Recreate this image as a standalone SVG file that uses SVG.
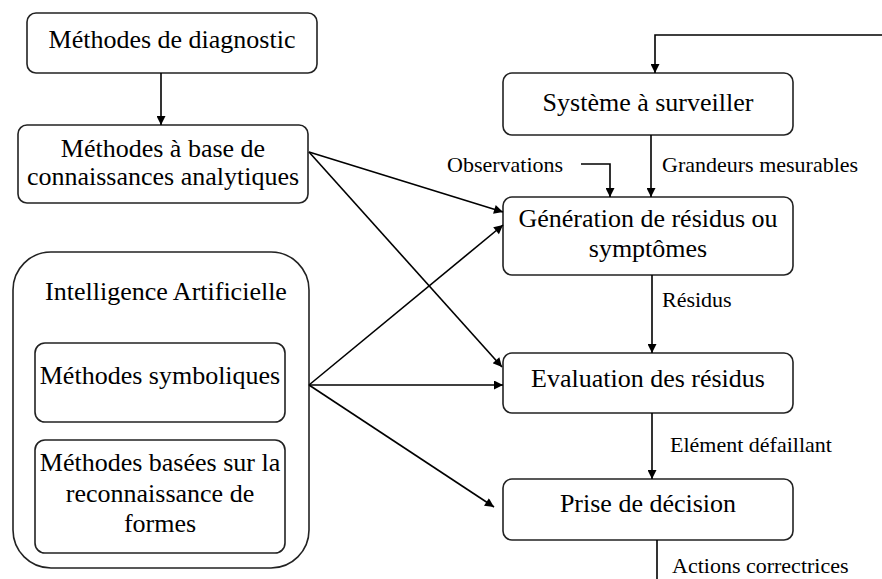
<svg xmlns="http://www.w3.org/2000/svg" width="882" height="579" viewBox="0 0 882 579">
  <defs>
    <marker id="arrow" viewBox="0 0 10 10" refX="10" refY="5" markerWidth="11" markerHeight="9" markerUnits="userSpaceOnUse" orient="auto">
      <path d="M0,0 L10,5 L0,10 Z" fill="#000"/>
    </marker>
    <style>
      .box { fill: #fff; stroke: #222; stroke-width: 1.6; }
      .t { font-size: 26px; fill: #000; text-anchor: middle; }
      .lbl { font-size: 22px; fill: #000; }
      .edge { fill: none; stroke: #000; stroke-width: 1.6; }
    </style>
  </defs>
  <rect width="882" height="579" fill="#fff"/>

  <g font-family="Liberation Serif, Times New Roman, Tinos, DejaVu Serif, serif">
  <!-- left column -->
  <g id="methodes-diagnostic">
    <rect class="box" x="27" y="13" width="290" height="60" rx="9"/>
    <text class="t" x="172" y="48">Méthodes de diagnostic</text>
  </g>
  <g id="methodes-analytiques">
    <rect class="box" x="18" y="125" width="290" height="78" rx="9"/>
    <text class="t" x="163" y="157">Méthodes à base de</text>
    <text class="t" x="163" y="185">connaissances analytiques</text>
  </g>
  <g id="intelligence-artificielle">
    <rect class="box" x="13" y="252" width="296" height="316" rx="38"/>
    <text class="t" x="166" y="300">Intelligence Artificielle</text>
  </g>
  <g id="methodes-symboliques">
    <rect class="box" x="35" y="343" width="250" height="79" rx="10"/>
    <text class="t" x="160" y="384">Méthodes symboliques</text>
  </g>
  <g id="methodes-formes">
    <rect class="box" x="35" y="440" width="250" height="113" rx="10"/>
    <text class="t" x="160" y="471">Méthodes basées sur la</text>
    <text class="t" x="160" y="502">reconnaissance de</text>
    <text class="t" x="160" y="532">formes</text>
  </g>

  <!-- right column -->
  <g id="systeme">
    <rect class="box" x="503" y="73" width="290" height="62" rx="9"/>
    <text class="t" x="648" y="111">Système à surveiller</text>
  </g>
  <g id="generation">
    <rect class="box" x="503" y="197" width="290" height="78" rx="9"/>
    <text class="t" x="648" y="227">Génération de résidus ou</text>
    <text class="t" x="648" y="257">symptômes</text>
  </g>
  <g id="evaluation">
    <rect class="box" x="503" y="353" width="290" height="60" rx="9"/>
    <text class="t" x="648" y="387">Evaluation des résidus</text>
  </g>
  <g id="decision">
    <rect class="box" x="503" y="479" width="290" height="61" rx="9"/>
    <text class="t" x="648" y="512">Prise de décision</text>
  </g>

  <!-- connectors -->
  <g id="connectors">
    <line class="edge" x1="161" y1="73" x2="161" y2="125" marker-end="url(#arrow)"/>
    <polyline class="edge" points="882,35 655,35 655,73" marker-end="url(#arrow)"/>
    <line class="edge" x1="651" y1="135" x2="651" y2="197" marker-end="url(#arrow)"/>
    <polyline class="edge" points="581,164 610,164 610,197" marker-end="url(#arrow)"/>
    <line class="edge" x1="652" y1="275" x2="652" y2="353" marker-end="url(#arrow)"/>
    <line class="edge" x1="652" y1="413" x2="652" y2="479" marker-end="url(#arrow)"/>
    <line class="edge" x1="657" y1="540" x2="657" y2="579"/>

    <line class="edge" x1="309" y1="152" x2="503" y2="212" marker-end="url(#arrow)"/>
    <line class="edge" x1="309" y1="152" x2="502" y2="367" marker-end="url(#arrow)"/>
    <line class="edge" x1="309" y1="385" x2="503" y2="225" marker-end="url(#arrow)"/>
    <line class="edge" x1="309" y1="385" x2="503" y2="385" marker-end="url(#arrow)"/>
    <line class="edge" x1="309" y1="385" x2="494" y2="507" marker-end="url(#arrow)"/>
  </g>

  <!-- connector labels -->
  <g id="labels">
    <text class="lbl" x="447" y="172">Observations</text>
    <text class="lbl" x="662" y="172">Grandeurs mesurables</text>
    <text class="lbl" x="662" y="307">Résidus</text>
    <text class="lbl" x="670" y="452">Elément défaillant</text>
    <text class="lbl" x="672" y="573">Actions correctrices</text>
  </g>
  </g>
</svg>
